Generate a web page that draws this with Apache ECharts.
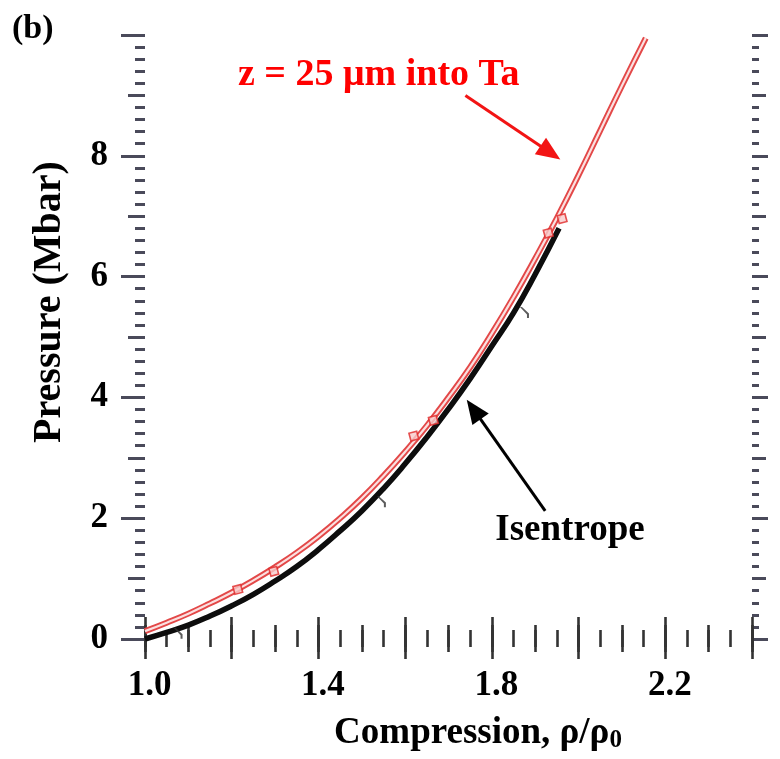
<!DOCTYPE html>
<html>
<head>
<meta charset="utf-8">
<script src="https://cdn.jsdelivr.net/npm/echarts@6/dist/echarts.min.js"></script>
<style>
html,body{margin:0;padding:0;background:#fff;}
#chart{width:780px;height:759px;}
</style>
</head>
<body>
<div id="chart"></div>
<script>
// ---- data ----
var isentropeX = [1.00,1.05,1.10,1.15,1.20,1.25,1.30,1.35,1.40,1.45,1.50,1.55,1.60,1.65,1.70,1.75,1.80,1.85,1.90,1.955];
var isentropeP = [0.00,0.11,0.23,0.38,0.55,0.74,0.96,1.20,1.48,1.79,2.12,2.49,2.90,3.34,3.81,4.31,4.85,5.40,6.04,6.80];
var taX = [1.00,1.05,1.10,1.15,1.20,1.25,1.30,1.35,1.40,1.45,1.50,1.55,1.60,1.65,1.70,1.75,1.80,1.85,1.90,1.95,2.00,2.05,2.10,2.155];
var taP = [0.13,0.27,0.42,0.59,0.77,0.97,1.19,1.43,1.70,2.00,2.33,2.70,3.10,3.53,4.00,4.50,5.06,5.66,6.30,6.97,7.68,8.42,9.16,9.95];
var taMarkX = [1.214,1.297,1.620,1.665,1.930,1.962];
var taMarkP = [0.82,1.12,3.36,3.62,6.72,6.96];
var isoMarkX = [1.067,1.536,1.866];
var isoMarkP = [0.16,2.34,5.47];
var xLabels = ['1.0','1.4','1.8','2.2'];
var yLabels = ['0','2','4','6','8'];
var redArrow = [[1.739,9.00],[1.935,8.05]];
var blackArrow = [[1.923,2.12],[1.758,3.80]];

function zip(a,b){return a.map(function(v,i){return [v,b[i]];});}

var serif = '"Liberation Serif","Times New Roman",serif';
var tickColor = '#333';

function xAx(pos, interval, len, labels){
  return {
    type:'value', gridIndex:0, position:pos, min:1.0, max:2.4, interval:interval,
    axisLine:{show:false}, splitLine:{show:false},
    axisTick:{show:true, inside:false, length:len, lineStyle:{color:tickColor,width:2.6}},
    axisLabel: labels ? {
      show:true, margin:29, fontFamily:serif, fontWeight:'bold', fontSize:35, color:'#000',
      padding:[0,0,0,9],
      formatter:function(v){var s=v.toFixed(1); return xLabels.indexOf(s)>=0?s:'';}
    } : {show:false}
  };
}
function yAx(pos, interval, len, labels){
  return {
    type:'value', gridIndex:0, position:pos, min:0, max:10, interval:interval,
    axisLine:{show:false}, splitLine:{show:false},
    axisTick:{show:true, inside:false, length:len, lineStyle:{color:'#4a4a5a',width:3}},
    axisLabel: labels ? {
      show:true, margin:37, fontFamily:serif, fontWeight:'bold', fontSize:35, color:'#000',
      formatter:function(v){var s=String(Math.round(v)); return yLabels.indexOf(s)>=0?s:'';}
    } : {show:false}
  };
}

var chart = echarts.init(document.getElementById('chart'), null, {renderer:'canvas'});
var option = {
  animation:false,
  backgroundColor:'#fff',
  grid:{left:145, right:28, top:35, bottom:120, containLabel:false},
  xAxis:[
    xAx('bottom',0.2,20,true), xAx('bottom',0.1,13,false), xAx('bottom',0.05,8,false),
    xAx('top',0.2,22,false), xAx('top',0.1,14,false), xAx('top',0.05,9,false)
  ],
  yAxis:[
    yAx('left',2,24,true), yAx('left',1,17,false), yAx('left',0.2,10,false),
    yAx('right',2,16,false), yAx('right',1,14,false), yAx('right',0.2,7,false)
  ],
  series:[
    {
      name:'Isentrope', type:'line', xAxisIndex:0, yAxisIndex:0,
      data:zip(isentropeX,isentropeP), smooth:true, showSymbol:false,
      lineStyle:{color:'#0d0d0d', width:5.5}, z:2,
      markLine:{
        silent:true, animation:false,
        label:{show:false},
        data:[
          [{coord:redArrow[0], symbol:'none', lineStyle:{color:'#f21414',width:3,type:'solid'}},
           {coord:redArrow[1], symbol:'triangle', symbolSize:[20,24], itemStyle:{color:'#f21414'}}],
          [{coord:blackArrow[0], symbol:'none', lineStyle:{color:'#000',width:3,type:'solid'}},
           {coord:blackArrow[1], symbol:'triangle', symbolSize:[20,24], itemStyle:{color:'#000'}}]
        ]
      }
    },
    {
      name:'isoMarks', type:'scatter', xAxisIndex:0, yAxisIndex:0,
      data:zip(isoMarkX,isoMarkP),
      symbol:'path://M0,0 L2,0 L9,7 L9,12 L7,12 L7,8 Z', symbolSize:[9,11], symbolOffset:[4,4],
      itemStyle:{color:'#333'}, z:3
    },
    {
      name:'Ta outer', type:'line', xAxisIndex:0, yAxisIndex:0,
      data:zip(taX,taP), smooth:true, showSymbol:false,
      lineStyle:{color:'#e34848', width:6}, z:4
    },
    {
      name:'Ta inner', type:'line', xAxisIndex:0, yAxisIndex:0,
      data:zip(taX,taP), smooth:true, showSymbol:false,
      lineStyle:{color:'#fbe0e0', width:2.2}, z:5
    },
    {
      name:'taMarks', type:'scatter', xAxisIndex:0, yAxisIndex:0,
      data:zip(taMarkX,taMarkP), symbol:'rect', symbolSize:8, symbolRotate:15,
      itemStyle:{color:'#f7caca', borderColor:'#e02828', borderWidth:1.6}, z:6
    }
  ],
  graphic:[
    {type:'text', left:12, top:12, style:{text:'(b)', font:'bold 34px '+serif, fill:'#000'}},
    {type:'text', x:238, y:75, style:{text:'z = 25 μm into Ta', font:'bold 38px '+serif, fill:'#ff0000', verticalAlign:'middle', align:'left'}},
    {type:'text', x:570, y:530, style:{text:'Isentrope', font:'bold 37px '+serif, fill:'#000', verticalAlign:'middle', align:'center'}},
    {type:'text', x:50, y:302, rotation:Math.PI/2, style:{text:'Pressure (Mbar)', font:'bold 40px '+serif, fill:'#000', verticalAlign:'middle', align:'center'}},
    {type:'text', x:478, y:733, style:{
      text:'{a|Compression, ρ/ρ}{b|0}', verticalAlign:'middle', align:'center',
      rich:{
        a:{fontFamily:serif, fontWeight:'bold', fontSize:37, fill:'#000', color:'#000'},
        b:{fontFamily:serif, fontWeight:'bold', fontSize:25, fill:'#000', color:'#000', padding:[16,0,0,0]}
      }
    }}
  ]
};
chart.setOption(option);
</script>
</body>
</html>
